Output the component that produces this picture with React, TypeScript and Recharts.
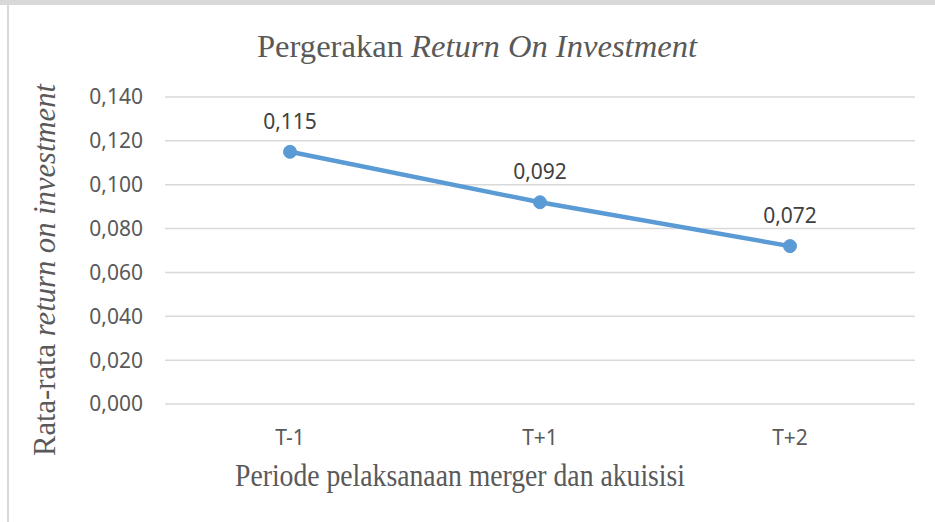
import React from "react";
import { LineChart, Line, XAxis, YAxis, CartesianGrid, LabelList, Label } from "recharts";

const periods = ["T-1", "T+1", "T+2"];
const roiValues = [0.115, 0.092, 0.072];
const yTicks = [0, 0.02, 0.04, 0.06, 0.08, 0.1, 0.12, 0.14];

const data = periods.map((p, i) => ({ period: p, roi: roiValues[i] }));

const fmt = (v: number) => v.toFixed(3).replace(".", ",");

const serif = "'Liberation Serif', 'Times New Roman', serif";
const sans = "'Noto Sans', 'Open Sans', sans-serif";

function YTitle() {
  return (
    <text
      x={44}
      y={270}
      transform="rotate(-90 44 270)"
      textAnchor="middle"
      dominantBaseline="central"
      fill="#595959"
      fontFamily={serif}
      fontSize={32}
      textLength={372}
      lengthAdjust="spacingAndGlyphs"
    >
      Rata-rata <tspan fontStyle="italic">return on investment</tspan>
    </text>
  );
}

function XTitle() {
  return (
    <text
      x={460}
      y={486}
      textAnchor="middle"
      fill="#595959"
      fontFamily={serif}
      fontSize={32}
      textLength={450}
      lengthAdjust="spacingAndGlyphs"
    >
      Periode pelaksanaan merger dan akuisisi
    </text>
  );
}

export default function App() {
  return (
    <div
      style={{
        position: "absolute",
        left: 0,
        top: 0,
        width: 935,
        height: 522,
        background: "#fff",
      }}
    >
      <div
        style={{
          position: "absolute",
          left: 0,
          top: 0,
          width: 935,
          height: 5,
          background: "#d9d9d9",
        }}
      />
      <div
        style={{
          position: "absolute",
          left: 7,
          top: 5,
          width: 2,
          height: 517,
          background: "#d9d9d9",
        }}
      />
      <svg
        width={935}
        height={90}
        style={{ position: "absolute", left: 0, top: 0 }}
      >
        <text
          x={477}
          y={57}
          textAnchor="middle"
          fill="#595959"
          fontFamily={serif}
          fontSize={32}
          textLength={440}
          lengthAdjust="spacingAndGlyphs"
        >
          Pergerakan <tspan fontStyle="italic">Return On Investment</tspan>
        </text>
      </svg>
      <div style={{ position: "absolute", left: 0, top: 0 }}>
        <LineChart
          width={935}
          height={522}
          data={data}
          margin={{ top: 97, right: 20, bottom: 58, left: 0 }}
        >
          <CartesianGrid vertical={false} stroke="#d9d9d9" strokeWidth={1.5} />
          <XAxis
            dataKey="period"
            axisLine={false}
            tickLine={false}
            tickSize={0}
            tickMargin={26}
            height={60}
            padding={{ left: 125, right: 125 }}
            tick={{ fill: "#595959", fontSize: 21, fontFamily: sans }}
          >
            <Label content={() => <XTitle />} />
          </XAxis>
          <YAxis
            width={165}
            domain={[0, 0.14]}
            ticks={yTicks}
            tickFormatter={fmt}
            axisLine={false}
            tickLine={false}
            tickSize={0}
            tickMargin={22}
            tick={{ fill: "#595959", fontSize: 21, fontFamily: sans }}
          >
            <Label content={() => <YTitle />} />
          </YAxis>
          <Line
            type="linear"
            dataKey="roi"
            stroke="#5B9BD5"
            strokeWidth={4.5}
            dot={{ r: 6.5, fill: "#5B9BD5", stroke: "#5B9BD5", strokeWidth: 1 }}
            isAnimationActive={false}
          >
            <LabelList
              dataKey="roi"
              position="top"
              offset={23}
              formatter={(v: any) => fmt(Number(v))}
              fill="#404040"
              fontSize={21}
              fontFamily={sans}
            />
          </Line>
        </LineChart>
      </div>
    </div>
  );
}
